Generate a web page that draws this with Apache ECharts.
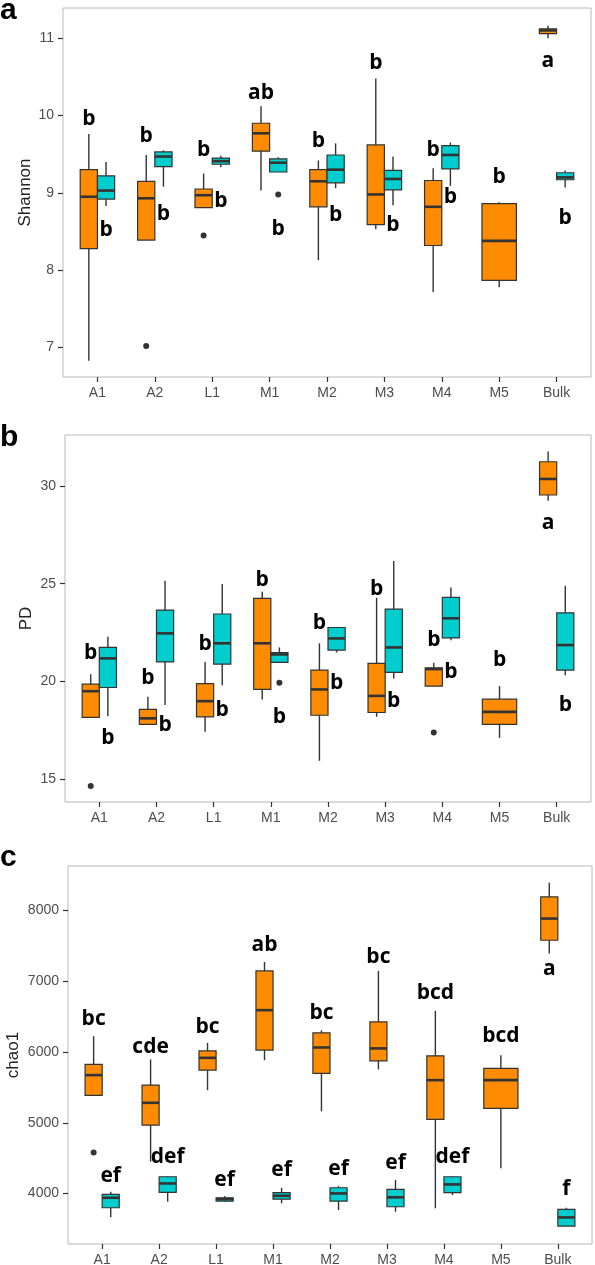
<!DOCTYPE html>
<html><head><meta charset="utf-8">
<script src="https://cdn.jsdelivr.net/npm/echarts@6/dist/echarts.min.js"></script>
<style>html,body{margin:0;padding:0;background:#fff}#c{width:595px;height:1265px}</style>
</head><body><div id="c"></div>
<script>
const categories = ['A1','A2','L1','M1','M2','M3','M4','M5','Bulk'];

// box stats per category: [lowerWhisker, q1, median, q3, upperWhisker]
const shannonOrange = [
  [6.83, 8.28, 8.95, 9.30, 9.76],
  [8.39, 8.39, 8.93, 9.15, 9.49],
  [8.81, 8.81, 8.97, 9.05, 9.25],
  [9.03, 9.54, 9.77, 9.90, 10.12],
  [8.13, 8.82, 9.15, 9.30, 9.42],
  [8.53, 8.59, 8.98, 9.62, 10.48],
  [7.72, 8.32, 8.82, 9.16, 9.32],
  [7.78, 7.87, 8.38, 8.86, 8.88],
  [11.0, 11.06, 11.10, 11.12, 11.16]
];
const shannonCyan = [
  [8.83, 8.92, 9.03, 9.22, 9.40],
  [9.08, 9.34, 9.47, 9.53, 9.55],
  [9.33, 9.37, 9.41, 9.45, 9.48],
  [9.27, 9.27, 9.39, 9.44, 9.46],
  [9.06, 9.13, 9.30, 9.49, 9.64],
  [8.84, 9.04, 9.18, 9.29, 9.47],
  [9.09, 9.31, 9.49, 9.61, 9.65],
  null,
  [9.07, 9.17, 9.20, 9.26, 9.29]
];
const shannonOutOrange = [[1, 7.02], [2, 8.45]];
const shannonOutCyan = [[3, 8.98]];
const shannonLetOrange = ['b','b','b','ab','b','b','b','b','a'];
const shannonLetOrangeY = [9.96, 9.73, 9.55, 10.29, 9.67, 10.68, 9.56, 9.21, 10.71];
const shannonLetCyan = ['b','b','b','b','b','b','b',null,'b'];
const shannonLetCyanY = [8.52, 8.73, 8.89, 8.53, 8.72, 8.59, 8.95, null, 8.67];
const shannonTicks = [7, 8, 9, 10, 11];

const pdOrange = [
  [18.16, 18.16, 19.50, 19.86, 20.37],
  [17.80, 17.80, 18.11, 18.57, 19.21],
  [17.42, 18.19, 18.99, 19.89, 21.00],
  [19.08, 19.59, 21.95, 24.25, 24.59],
  [15.94, 18.27, 19.59, 20.58, 21.95],
  [18.19, 18.41, 19.26, 20.92, 24.28],
  [19.76, 19.76, 20.63, 20.70, 20.95],
  [17.11, 17.80, 18.44, 19.09, 19.76],
  [29.25, 29.54, 30.36, 31.24, 31.76]
];
const pdCyan = [
  [18.22, 19.69, 21.18, 21.74, 22.28],
  [18.79, 21.00, 22.46, 23.65, 25.15],
  [19.81, 20.89, 21.95, 23.45, 24.98],
  [20.97, 20.97, 21.38, 21.47, 21.74],
  [21.48, 21.60, 22.20, 22.76, 22.76],
  [20.15, 20.46, 21.74, 23.70, 26.16],
  [22.11, 22.23, 23.23, 24.30, 24.80],
  null,
  [20.32, 20.58, 21.86, 23.51, 24.90]
];
const pdOutOrange = [[0, 14.65], [6, 17.39]];
const pdOutCyan = [[3, 19.93]];
const pdLetOrange = ['b','b','b','b','b','b','b','b','a'];
const pdLetOrangeY = [21.47, 20.19, 21.89, 25.19, 22.97, 24.73, 22.11, 21.09, 28.09];
const pdLetCyan = ['b','b','b','b','b','b','b',null,'b'];
const pdLetCyanY = [17.08, 17.76, 18.53, 18.16, 19.90, 19.01, 20.49, null, 18.79];
const pdTicks = [15, 20, 25, 30];

const chaoOrange = [
  [5386, 5386, 5673, 5824, 6223],
  [4450, 4968, 5282, 5532, 5894],
  [5461, 5743, 5917, 6015, 6128],
  [5884, 6026, 6590, 7144, 7271],
  [5162, 5697, 6063, 6270, 6307],
  [5753, 5875, 6050, 6425, 7144],
  [3793, 5048, 5602, 5946, 6580],
  [4357, 5203, 5602, 5767, 5955],
  [7389, 7577, 7883, 8188, 8390]
];
const chaoCyan = [
  [3666, 3801, 3942, 3990, 4027],
  [3886, 4017, 4144, 4238, 4248],
  [3881, 3895, 3923, 3942, 3966],
  [3863, 3923, 3970, 4013, 4083],
  [3768, 3895, 4003, 4083, 4107],
  [3744, 3815, 3948, 4060, 4192],
  [3980, 4013, 4130, 4238, 4248],
  null,
  [3541, 3541, 3664, 3777, 3801]
];
const chaoOutOrange = [[0, 4582]];
const chaoOutCyan = [];
const chaoLetOrange = ['bc','cde','bc','ab','bc','bc','bcd','bcd','a'];
const chaoLetOrangeY = [6463, 6072, 6354, 7516, 6543, 7341, 6834, 6223, 7168];
const chaoLetCyan = ['ef','def','ef','ef','ef','ef','def',null,'f'];
const chaoLetCyanY = [4253, 4512, 4192, 4334, 4347, 4427, 4512, null, 4065];
const chaoTicks = [4000, 5000, 6000, 7000, 8000];

const ORANGE = '#FF8C00', CYAN = '#00CDCD', EDGE = '#333333';
const BOX_FRAC = 0.6;
const TICK_FONT = 'Liberation Sans';

function boxRender(side, other, color) {
  return function (params, api) {
    const i = api.value(0);
    const paired = other[i] != null;
    const full = api.size([1, 0])[0] * BOX_FRAC;
    const w = paired ? full / 2 : full;
    const cx = api.coord([i, api.value(3)])[0] + (paired ? side * full / 4 : 0);
    const y = k => api.coord([i, api.value(k)])[1];
    return { type: 'group', children: [
      { type: 'line', shape: { x1: cx, y1: y(5), x2: cx, y2: y(4) }, style: { stroke: EDGE, lineWidth: 1.4 } },
      { type: 'line', shape: { x1: cx, y1: y(2), x2: cx, y2: y(1) }, style: { stroke: EDGE, lineWidth: 1.4 } },
      { type: 'rect', shape: { x: cx - w / 2, y: y(4), width: w, height: Math.max(y(2) - y(4), 0.5) }, style: { fill: color, stroke: EDGE, lineWidth: 1.2 } },
      { type: 'line', shape: { x1: cx - w / 2, y1: y(3), x2: cx + w / 2, y2: y(3) }, style: { stroke: EDGE, lineWidth: 2.6 } }
    ]};
  };
}
function pointRender(side, other) {
  return function (params, api) {
    const i = api.value(0);
    const paired = other[i] != null;
    const full = api.size([1, 0])[0] * BOX_FRAC;
    const p = api.coord([i, api.value(1)]);
    const cx = p[0] + (paired ? side * full / 4 : 0);
    return { type: 'circle', shape: { cx: cx, cy: p[1], r: 3 }, style: { fill: EDGE } };
  };
}
function textRender(side, other, texts) {
  return function (params, api) {
    const i = api.value(0);
    const paired = other[i] != null;
    const full = api.size([1, 0])[0] * BOX_FRAC;
    const p = api.coord([i, api.value(1)]);
    const cx = p[0] + (paired ? side * full / 4 : 0);
    return { type: 'text', x: cx, y: p[1], style: {
      text: texts[i], align: 'center', verticalAlign: 'middle',
      font: 'bold 21px "Open Sans"', fill: '#000'
    }};
  };
}

function panelSeries(k, orange, cyan, outO, outC, letO, letOY, letC, letCY) {
  const boxData = arr => arr.map((d, i) => d ? [i].concat(d) : null).filter(Boolean);
  const letData = (t, ys) => t.map((s, i) => s ? [i, ys[i]] : null).filter(Boolean);
  const base = { type: 'custom', xAxisIndex: k, yAxisIndex: k, silent: true, clip: false };
  return [
    Object.assign({}, base, { data: boxData(orange), renderItem: boxRender(-1, cyan, ORANGE), encode: { x: 0, y: [1, 2, 3, 4, 5] } }),
    Object.assign({}, base, { data: boxData(cyan), renderItem: boxRender(1, orange, CYAN), encode: { x: 0, y: [1, 2, 3, 4, 5] } }),
    Object.assign({}, base, { data: outO, renderItem: pointRender(-1, cyan), encode: { x: 0, y: 1 } }),
    Object.assign({}, base, { data: outC, renderItem: pointRender(1, orange), encode: { x: 0, y: 1 } }),
    Object.assign({}, base, { data: letData(letO, letOY), renderItem: textRender(-1, cyan, letO), encode: { x: 0, y: 1 } }),
    Object.assign({}, base, { data: letData(letC, letCY), renderItem: textRender(1, orange, letC), encode: { x: 0, y: 1 } })
  ];
}

const catIdx = categories.map((c, i) => i);
function xAxis(k) {
  return {
    gridIndex: k, type: 'value', min: -0.6, max: 8.6, position: 'bottom',
    axisLine: { show: false, onZero: false }, splitLine: { show: false },
    axisTick: { show: true, length: 5, lineStyle: { color: EDGE, width: 1.2 }, customValues: catIdx },
    axisLabel: { customValues: catIdx, formatter: v => categories[Math.round(v)] || '', color: '#4d4d4d', fontSize: 14, fontFamily: TICK_FONT, margin: 9 }
  };
}
function yAxis(k, min, max, name, gap, ticks) {
  return {
    gridIndex: k, type: 'value', min: min, max: max, position: 'left',
    name: name, nameLocation: 'middle', nameGap: gap, nameMoveOverlap: false,
    nameTextStyle: { fontSize: 17, color: '#222', fontFamily: TICK_FONT },
    axisLine: { show: false, onZero: false }, splitLine: { show: false },
    axisTick: { show: true, length: 5, lineStyle: { color: EDGE, width: 1.2 }, customValues: ticks },
    axisLabel: { customValues: ticks, formatter: v => String(v), color: '#4d4d4d', fontSize: 14, fontFamily: TICK_FONT, margin: 9 }
  };
}
const gridStyle = { show: true, borderColor: '#b8b8b8', borderWidth: 1, backgroundColor: '#fff', containLabel: false, outerBoundsMode: 'none' };

const chart = echarts.init(document.getElementById('c'), null, { renderer: 'canvas' });
chart.setOption({
  animation: false,
  backgroundColor: '#fff',
  grid: [
    Object.assign({ left: 63, top: 8, width: 528, height: 369 }, gridStyle),
    Object.assign({ left: 65, top: 435, width: 526, height: 367 }, gridStyle),
    Object.assign({ left: 68, top: 866, width: 524, height: 378 }, gridStyle)
  ],
  xAxis: [xAxis(0), xAxis(1), xAxis(2)],
  yAxis: [
    yAxis(0, 6.62, 11.39, 'Shannon', 29, shannonTicks),
    yAxis(1, 13.83, 32.61, 'PD', 30, pdTicks),
    yAxis(2, 3289, 8625, 'chao1', 46, chaoTicks)
  ],
  graphic: [
    { type: 'text', left: 0, top: -4, style: { text: 'a', font: 'bold 30px "Liberation Sans"', fill: '#000' } },
    { type: 'text', left: 0, top: 423, style: { text: 'b', font: 'bold 30px "Liberation Sans"', fill: '#000' } },
    { type: 'text', left: 0, top: 843, style: { text: 'c', font: 'bold 30px "Liberation Sans"', fill: '#000' } }
  ],
  series: [].concat(
    panelSeries(0, shannonOrange, shannonCyan, shannonOutOrange, shannonOutCyan, shannonLetOrange, shannonLetOrangeY, shannonLetCyan, shannonLetCyanY),
    panelSeries(1, pdOrange, pdCyan, pdOutOrange, pdOutCyan, pdLetOrange, pdLetOrangeY, pdLetCyan, pdLetCyanY),
    panelSeries(2, chaoOrange, chaoCyan, chaoOutOrange, chaoOutCyan, chaoLetOrange, chaoLetOrangeY, chaoLetCyan, chaoLetCyanY)
  )
});
</script></body></html>
